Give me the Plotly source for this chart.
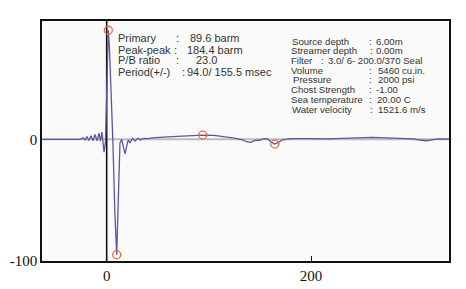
import plotly.graph_objects as go

# Waveform (time in ms, pressure in bar-m)
time_ms = [-63, -30, -26.1, -23.2, -21.2, -19.3, -17.3, -15.4, -13.4, -11.5, -9.5, -7.5,
           -6.1, -4.6, -2.6, -1.2, 0, 1.6, 2.7, 4, 6, 8, 9.8, 11, 12, 13, 14.7, 16,
           17.9, 19.5, 21.1, 22.8, 25.3, 27.7, 30.6, 33, 36, 40, 45, 55, 65, 75, 85,
           94, 105, 115, 125, 133, 137, 141, 145, 150, 153, 157, 160, 164, 167, 172,
           180, 190, 200, 215, 230, 245, 260, 270, 285, 300, 308, 313, 318, 325, 335]
pressure = [0, 0, 0, 1.2, -0.5, 2.0, -1, 3.0, -1.2, 4.0, -1.2, 5.0,
            -1.5, 6.0, -10.5, -2, 40, 89.6, 75, 50, 0, -60, -94.8, -60, -20, -3, 0, -6,
            -12, -6, -0.5, -3, 0.8, -1.5, 1, -0.5, 0.8, 0.5, 1.2, 1.8, 2.2, 2.8, 3.2,
            3.5, 3.2, 2.2, 1.0, -0.5, -2, -2.5, -1, -0.8, 0.3, 0.5, -1.5, -3.9, -3, -0.5,
            0.5, 0.8, 0.5, 0.3, 0.5, 1.2, 1.6, 1.2, 0.6, 0.3, -0.8, -1.2, -0.4, 0.3, 0.2]

# Picked extremes (primary peak, primary trough, bubble peak, bubble trough)
pick_t = [1.6, 9.8, 94.0, 164.5]
pick_p = [89.6, -94.8, 3.5, -3.9]

x_ticks = [0, 200]
y_ticks = [-100, 0]

left_labels = ["Primary", "Peak-peak", "P/B ratio", "Period(+/-)"]
left_values = ["89.6 barm", "184.4 barm", "23.0", "94.0/ 155.5 msec"]

right_labels = ["Source depth", "Streamer depth", "Filter", "Volume", "Pressure",
                "Chost Strength", "Sea temperature", "Water velocity"]
right_values = ["6.00m", "0.00m", "3.0/ 6- 200.0/370 Seal", "5460 cu.in.", "2000 psi",
                "-1.00", "20.00 C", "1521.6 m/s"]

# plot area in pixels
L, R, T, B = 42, 449, 21, 261
W_, H_ = 466, 289


def px(x):
    return (x - L) / (R - L)


def py(y):
    return (B - y) / (B - T)


fig = go.Figure()

# zero reference line
fig.add_trace(go.Scatter(x=[-63.3, 335], y=[0, 0], mode="lines",
                         line=dict(color="#bdbdbd", width=2), hoverinfo="skip",
                         showlegend=False))
# vertical line at t=0
fig.add_trace(go.Scatter(x=[0, 0], y=[-100, 97.2], mode="lines",
                         line=dict(color="#111111", width=1.6), hoverinfo="skip",
                         showlegend=False))
# signature
fig.add_trace(go.Scatter(x=time_ms, y=pressure, mode="lines",
                         line=dict(color="#5b56a3", width=1.3), showlegend=False))
# picks
fig.add_trace(go.Scatter(x=pick_t, y=pick_p, mode="markers",
                         marker=dict(symbol="circle-open", size=8, color="#ec6a45",
                                     line=dict(width=1.3, color="#ec6a45")),
                         showlegend=False))

ann = []
font_l = dict(family="Liberation Sans, Arial, sans-serif", size=11, color="#333333")
font_r = dict(family="Liberation Sans, Arial, sans-serif", size=9.6, color="#333333")

left_y = [38.5, 49.5, 60.5, 71.5]
left_colon_x = [175, 173, 175, 180.7]
left_val_x = [189, 186, 195, 186]
for i in range(4):
    ann.append(dict(x=px(117), y=py(left_y[i]), text=left_labels[i], font=font_l))
    ann.append(dict(x=px(left_colon_x[i]), y=py(left_y[i]), text=":", font=font_l))
    ann.append(dict(x=px(left_val_x[i]), y=py(left_y[i]), text=left_values[i], font=font_l))

right_y = [41.7, 50.7, 60.5, 70, 79.7, 89.6, 99.3, 109]
right_label_x = [290.7, 290, 290, 290, 292, 290, 290, 291]
right_colon_x = [368, 369.3, 320, 368, 368, 368, 367.7, 369]
right_val_x = [375, 375, 326.5, 376.7, 376.7, 375, 376, 376.7]
for i in range(8):
    ann.append(dict(x=px(right_label_x[i]), y=py(right_y[i]), text=right_labels[i], font=font_r))
    ann.append(dict(x=px(right_colon_x[i]), y=py(right_y[i]), text=":", font=font_r))
    ann.append(dict(x=px(right_val_x[i]), y=py(right_y[i]), text=right_values[i], font=font_r))

for a in ann:
    a.update(xref="paper", yref="paper", xanchor="left", yanchor="middle",
             showarrow=False, borderpad=0)

tick_font = dict(family="Liberation Serif, Times New Roman, serif", size=15, color="#111111")

fig.update_layout(
    width=W_, height=H_,
    margin=dict(l=L, r=W_ - R, t=T, b=H_ - B, pad=0, autoexpand=False),
    paper_bgcolor="#ffffff",
    plot_bgcolor="#fafafa",
    annotations=ann,
    xaxis=dict(range=[-63.3, 335], tickvals=x_ticks, ticktext=[str(v) for v in x_ticks],
               showgrid=False, zeroline=False, showline=True, linecolor="#111111",
               linewidth=1.5, mirror=True, ticks="inside", ticklen=5, tickcolor="#111111",
               tickfont=tick_font, fixedrange=True, automargin=False),
    yaxis=dict(range=[-100, 97.2], tickvals=y_ticks, ticktext=["-100", "0"],
               showgrid=False, zeroline=False, showline=True, linecolor="#111111",
               linewidth=1.5, mirror=True, ticks="", tickfont=tick_font, fixedrange=True,
               automargin=False),
)

fig.write_html("out.html", config={"displayModeBar": False},
               post_script="document.body.style.margin='0';document.body.style.overflow='hidden';")
